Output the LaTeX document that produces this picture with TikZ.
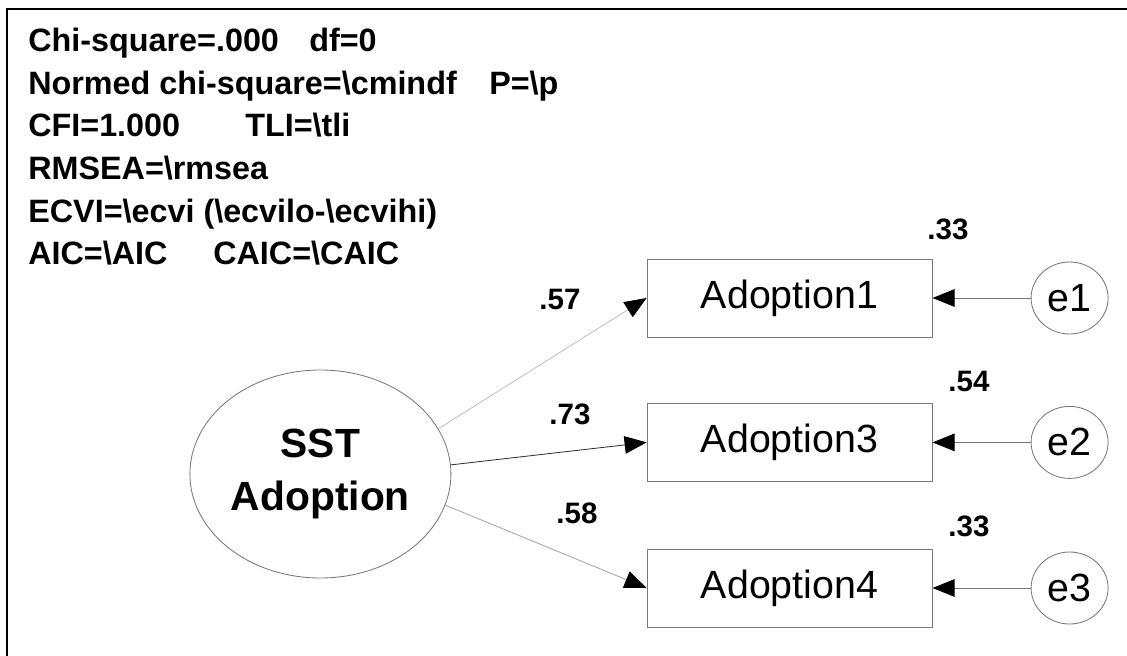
\documentclass[tikz,border=0pt]{standalone}
\usepackage{fontspec}
\setmainfont{Liberation Sans}
\newfontfamily\statfont{Liberation Sans}[FakeStretch=1.0]
\usetikzlibrary{arrows.meta,shapes.geometric}
\definecolor{ink}{RGB}{0,0,0}
\definecolor{rim}{RGB}{120,120,120}
\tikzset{
  >={Triangle[length=5.5mm,width=4.4mm,color=ink]},
  stat/.style={anchor=base west,inner sep=0pt,font=\statfont\fontsize{23}{27}\selectfont\bfseries},
  obs/.style={draw=rim,line width=0.7pt,minimum width=71.25mm,minimum height=19.5mm,
    inner sep=0pt,font=\fontsize{28}{34}\selectfont},
  err/.style={ellipse,draw=rim,line width=0.6pt,minimum width=19.25mm,minimum height=18mm,
    inner sep=0pt,font=\fontsize{28}{34}\selectfont},
  latent/.style={ellipse,draw=rim,line width=0.6pt,minimum width=65.25mm,minimum height=52mm,
    align=center,inner sep=0pt,font=\fontsize{29}{38}\selectfont\bfseries},
  coef/.style={inner sep=0pt,font=\fontsize{21}{25}\selectfont\bfseries},
  path/.style={->,line width=0.6pt,draw=#1},
  path/.default=rim,
}
\begin{document}
\begin{tikzpicture}
  \useasboundingbox (0,0) rectangle (28.175,-16.4);
  \clip (0,0) rectangle (28.175,-16.4);
  % frame
  \draw[line width=1.8pt] (0.175,-16.8) -- (0.175,-0.225) -- (28.6,-0.225);
  % fit statistics
  \node[stat] (chi) at (0.7,-1.29) {Chi-square=.000};
  \node[stat] (df) at (7.725,-1.29) {df=0};
  \node[stat] (norm) at (0.7,-2.355) {Normed chi-square=\textbackslash cmindf};
  \node[stat] (pval) at (12.225,-2.355) {P=\textbackslash p};
  \node[stat] (cfi) at (0.7,-3.42) {CFI=1.000};
  \node[stat] (tli) at (6.125,-3.42) {TLI=\textbackslash tli};
  \node[stat] (rmsea) at (0.7,-4.485) {RMSEA=\textbackslash rmsea};
  \node[stat] (ecvi) at (0.7,-5.55) {ECVI=\textbackslash ecvi (\textbackslash ecvilo-\textbackslash ecvihi)};
  \node[stat] (aic) at (0.7,-6.615) {AIC=\textbackslash AIC};
  \node[stat] (caic) at (5.325,-6.615) {CAIC=\textbackslash CAIC};
  % model
  \node[latent] (sst) at (8.01,-11.85) {SST\\Adoption};
  \node[obs] (a1) at (19.74,-7.45) {Adoption1};
  \node[obs] (a3) at (19.74,-11.06) {Adoption3};
  \node[obs] (a4) at (19.74,-14.7) {Adoption4};
  \node[err] (e1) at (26.74,-7.45) {e1};
  \node[err] (e2) at (26.74,-11.06) {e2};
  \node[err] (e3) at (26.74,-14.7) {e3};
  \draw[path=black!25] (sst.21) -- (a1.west);
  \draw[path=black!80] (sst.4) -- (a3.west);
  \draw[path=black!35] (sst.-14) -- (a4.west);
  \draw[path] (e1) -- (a1);
  \draw[path] (e2) -- (a3);
  \draw[path] (e3) -- (a4);
  % estimates
  \node[coef] (l1) at (14.0,-7.475) {.57};
  \node[coef] (l3) at (14.25,-10.35) {.73};
  \node[coef] (l4) at (14.425,-12.825) {.58};
  \node[coef] (r1) at (23.7,-5.725) {.33};
  \node[coef] (r3) at (24.225,-9.525) {.54};
  \node[coef] (r4) at (24.225,-13.15) {.33};
\end{tikzpicture}
\end{document}
